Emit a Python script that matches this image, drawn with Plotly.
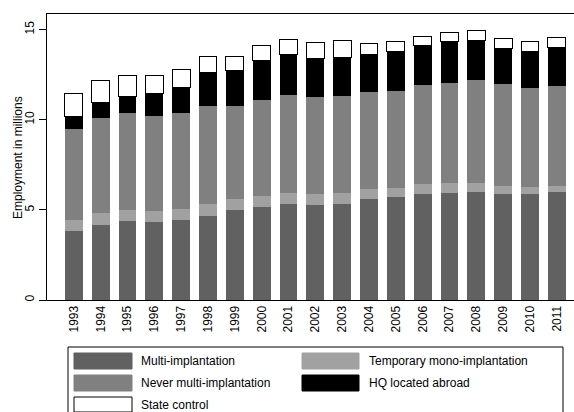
import plotly.graph_objects as go

years = [str(y) for y in range(1993, 2012)]

multi_implantation = [3.83, 4.18, 4.36, 4.31, 4.42, 4.66, 5.01, 5.16, 5.34, 5.29,
                      5.34, 5.62, 5.69, 5.90, 5.93, 6.01, 5.86, 5.86, 5.97]
temporary_mono = [0.59, 0.65, 0.65, 0.63, 0.63, 0.66, 0.57, 0.61, 0.61, 0.59,
                  0.58, 0.55, 0.54, 0.53, 0.54, 0.50, 0.46, 0.41, 0.37]
never_multi = [5.05, 5.24, 5.36, 5.25, 5.34, 5.44, 5.16, 5.32, 5.42, 5.40,
               5.38, 5.37, 5.34, 5.51, 5.58, 5.67, 5.66, 5.51, 5.51]
hq_abroad = [0.73, 0.86, 0.94, 1.27, 1.39, 1.83, 1.96, 2.17, 2.22, 2.14,
             2.16, 2.10, 2.22, 2.16, 2.26, 2.22, 1.98, 1.99, 2.17]
state_control = [1.24, 1.24, 1.13, 1.00, 0.99, 0.91, 0.81, 0.84, 0.87, 0.85,
                 0.92, 0.58, 0.55, 0.52, 0.50, 0.52, 0.52, 0.54, 0.51]

y_ticks = [0, 5, 10, 15]

series = [
    ("Multi-implantation", multi_implantation, "#616161"),
    ("Temporary mono-implantation", temporary_mono, "#a1a1a1"),
    ("Never multi-implantation", never_multi, "#808080"),
    ("HQ located abroad", hq_abroad, "#000000"),
    ("State control", state_control, "#ffffff"),
]

FONT = "Liberation Sans, Arial, sans-serif"
W, H = 574, 412
L, R, T, B = 47, 0, 14, 112
PW, PH = W - L - R, H - T - B

fig = go.Figure()
for name, vals, col in series:
    is_white = col == "#ffffff"
    fig.add_trace(go.Bar(
        x=years, y=vals, name=name, width=0.66,
        marker=dict(color=col,
                    line=dict(color="#000000" if is_white else col,
                              width=1 if is_white else 0)),
        showlegend=False,
    ))


def px(x):
    return (x - L) / PW


def py(y):
    return (H - B - y) / PH


shapes = []
annotations = []
# y-axis title
annotations.append(dict(xref="paper", yref="paper", x=px(18), y=py(158),
                        text="Employment in millions", textangle=-90, showarrow=False,
                        xanchor="center", yanchor="middle",
                        font=dict(family=FONT, size=12, color="#000000")))
# legend box
shapes.append(dict(type="rect", xref="paper", yref="paper",
                   x0=px(68), x1=px(563), y0=py(347), y1=py(415),
                   line=dict(color="#000000", width=1), fillcolor="rgba(0,0,0,0)"))
legend_layout = [(0, 0), (1, 0), (0, 1), (1, 1), (0, 2)]
col_sw = [(74, 132, 139), (302, 359, 367)]
row_y = [(353, 369), (375, 391), (397, 412)]
for (name, vals, col), (c, r) in zip(series, legend_layout):
    sx0, sx1, tx = col_sw[c]
    sy0, sy1 = row_y[r]
    shapes.append(dict(type="rect", xref="paper", yref="paper",
                       x0=px(sx0), x1=px(sx1), y0=py(sy1), y1=py(sy0),
                       fillcolor=col,
                       line=dict(color="#000000" if col == "#ffffff" else col, width=1)))
    annotations.append(dict(xref="paper", yref="paper", x=px(tx), y=py((sy0 + sy1) / 2),
                            text=name, showarrow=False, xanchor="left", yanchor="middle",
                            font=dict(family=FONT, size=12, color="#000000")))

fig.update_layout(
    width=W, height=H,
    margin=dict(l=L, r=R, t=T, b=B),
    barmode="stack",
    plot_bgcolor="#ffffff", paper_bgcolor="#ffffff",
    font=dict(family=FONT, size=12, color="#000000"),
    shapes=shapes, annotations=annotations,
    xaxis=dict(type="category", range=[-1.0, 18.64], tickangle=-90,
               showline=True, linecolor="#000000", linewidth=1, mirror=True,
               ticks="", showgrid=False, zeroline=False,
               tickfont=dict(family=FONT, size=12)),
    yaxis=dict(range=[0, 15.86], tickvals=y_ticks, tickangle=-90,
               showline=True, linecolor="#000000", linewidth=1,
               ticks="outside", ticklen=7, tickcolor="#000000",
               showgrid=False, zeroline=False,
               tickfont=dict(family=FONT, size=12)),
)

fig.write_html("out.html", config={"displayModeBar": False},
               post_script="document.body.style.margin='0';document.body.style.overflow='hidden';")
